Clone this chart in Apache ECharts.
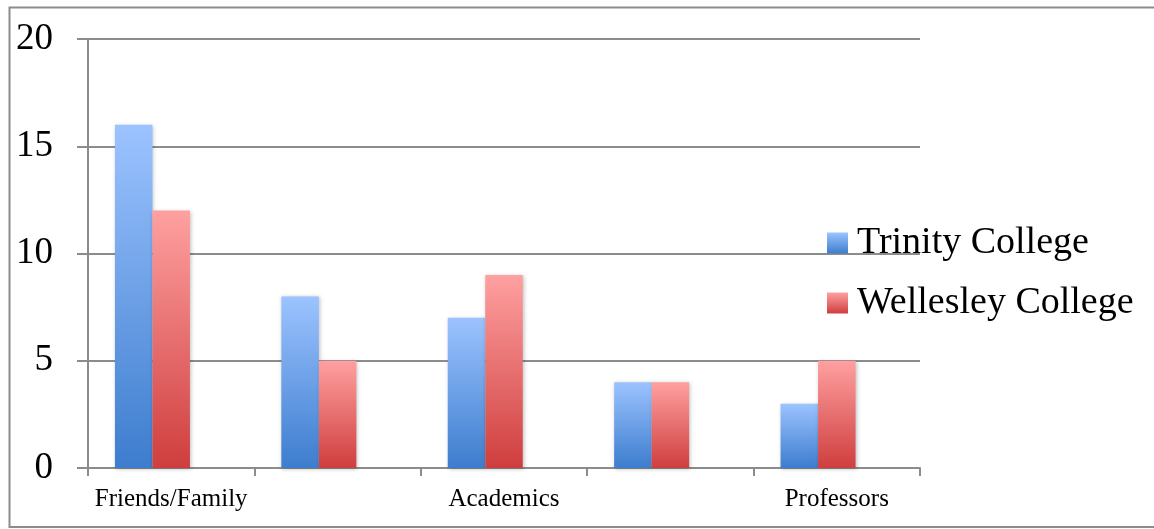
<!DOCTYPE html>
<html>
<head>
<meta charset="utf-8">
<script src="https://cdn.jsdelivr.net/npm/echarts@6/dist/echarts.min.js"></script>
<style>
html,body{margin:0;padding:0;background:#fff;}
#chart{width:1154px;height:529px;}
</style>
</head>
<body>
<div id="chart"></div>
<script>
var categories = ['Friends/Family', 'Social Life', 'Academics', 'Location', 'Professors'];
var trinity = [16, 8, 7, 4, 3];
var wellesley = [12, 5, 9, 4, 5];
var spacer = [null, null, null, null, null];
var yTicks = [0, 5, 10, 15, 20];

var chart = echarts.init(document.getElementById('chart'));
function grad(top, bottom) {
  return new echarts.graphic.LinearGradient(0, 0, 0, 1, [
    {offset: 0, color: top}, {offset: 1, color: bottom}
  ]);
}
var serif = '"Liberation Serif", "DejaVu Serif", serif';
chart.setOption({
  animation: false,
  graphic: [{
    type: 'rect',
    shape: {x: 9.5, y: 7.5, width: 1150, height: 519.5},
    style: {fill: 'none', stroke: '#8c8c8c', lineWidth: 2},
    silent: true
  }],
  grid: {left: 88, right: 234, top: 39, bottom: 61, containLabel: false},
  legend: {
    orient: 'vertical',
    left: 822, top: 219,
    itemWidth: 21, itemHeight: 21,
    itemGap: 22,
    data: ['Trinity College', 'Wellesley College'],
    textStyle: {fontFamily: serif, fontSize: 38, color: '#000', padding: [0,0,0,4]},
    icon: 'rect'
  },
  xAxis: {
    type: 'category',
    data: categories,
    axisLine: {lineStyle: {color: '#8c8c8c', width: 2}},
    axisTick: {show: true, interval: 0, length: 8, lineStyle: {color: '#8c8c8c', width: 2}},
    axisLabel: {interval: 1, fontFamily: serif, fontSize: 25, color: '#000', margin: 19}
  },
  yAxis: {
    type: 'value',
    min: yTicks[0], max: yTicks[yTicks.length - 1], interval: 5,
    axisLine: {show: true, lineStyle: {color: '#8c8c8c', width: 2}},
    axisTick: {show: true, length: 11, lineStyle: {color: '#8c8c8c', width: 2}},
    splitLine: {lineStyle: {color: '#8c8c8c', width: 2}},
    axisLabel: {fontFamily: serif, fontSize: 37, color: '#000', margin: 35}
  },
  series: [
    {
      name: 'Trinity College', type: 'bar', data: trinity,
      barWidth: 37.5, barGap: '0%', barCategoryGap: '32%',
      itemStyle: {color: grad('#9cc3ff', '#3d7dce'), shadowColor: 'rgba(0,0,0,0.25)', shadowBlur: 4, shadowOffsetX: 1, shadowOffsetY: 1}
    },
    {
      name: 'Wellesley College', type: 'bar', data: wellesley,
      barWidth: 37.5, barGap: '0%',
      itemStyle: {color: grad('#ffa0a0', '#cf3e3e'), shadowColor: 'rgba(0,0,0,0.25)', shadowBlur: 4, shadowOffsetX: 1, shadowOffsetY: 1}
    },
    {
      name: 'spacer', type: 'bar', data: spacer,
      barWidth: 37.5, barGap: '0%'
    }
  ]
});
</script>
</body>
</html>
